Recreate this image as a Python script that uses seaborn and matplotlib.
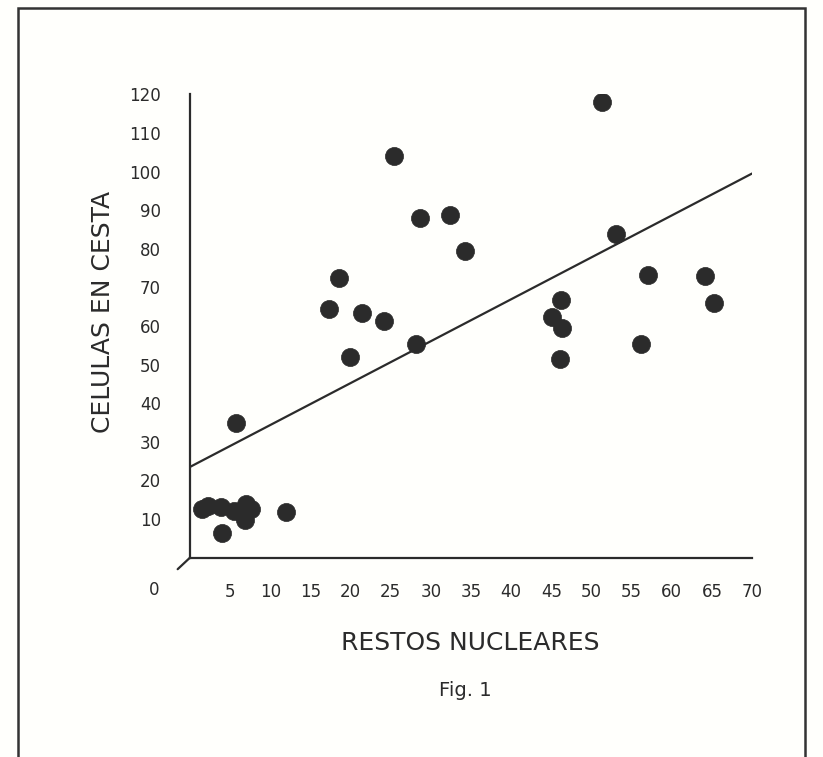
import numpy as np
import pandas as pd
import matplotlib.pyplot as plt
import seaborn as sb
from matplotlib.patches import Rectangle

# values
restos = [1.5, 2.2, 3.8, 4.0, 5.5, 6.5, 6.8, 7.0, 7.6, 12.0,
          5.7, 17.3, 18.5, 19.9, 21.4, 24.1, 25.4, 28.1, 28.6, 32.4, 34.3,
          45.1, 46.2, 46.3, 46.1, 51.3, 53.1, 56.2, 57.1, 64.1, 65.2]
celulas = [12.5, 13.5, 13.0, 6.5, 12.0, 11.5, 9.8, 14.0, 12.5, 11.8,
           35.0, 64.4, 72.4, 52.0, 63.3, 61.4, 104.0, 55.3, 88.1, 88.9, 79.5,
           62.4, 66.7, 59.4, 51.4, 118.1, 83.8, 55.3, 73.2, 73.0, 66.0]

# fitted line as drawn in the figure
line_intercept = 23.5
line_slope = 1.086
line_x = [0, 70]

x_ticks = [5, 10, 15, 20, 25, 30, 35, 40, 45, 50, 55, 60, 65, 70]
y_ticks = [10, 20, 30, 40, 50, 60, 70, 80, 90, 100, 110, 120]

df = pd.DataFrame({'restos': restos, 'celulas': celulas})
df_line = pd.DataFrame({'x': line_x})
df_line['y'] = line_intercept + line_slope * df_line['x']

sb.set_style('white')
plt.rcParams['font.family'] = ['DejaVu Sans']
ink = '#2b2b2b'

fig = plt.figure(figsize=(8.23, 7.57), dpi=100)
fig.patch.set_facecolor('#fffffc')
ax = fig.add_axes([0.2309, 0.2634, 0.6829, 0.6118])
ax.set_facecolor('none')

sb.lineplot(data=df_line, x='x', y='y', ax=ax, color=ink, linewidth=1.6)
sb.scatterplot(data=df, x='restos', y='celulas', ax=ax, s=170,
               color=ink, edgecolor=ink, linewidth=0.5, zorder=3)

ax.set_xlim(0, 70)
ax.set_ylim(0, 120)
ax.set_xticks(x_ticks)
ax.set_yticks(y_ticks)
ax.set_xticklabels([str(t) for t in x_ticks], fontsize=12, color=ink)
ax.set_yticklabels([str(t) for t in y_ticks], fontsize=12, color=ink)
ax.tick_params(axis='both', direction='out', length=7, width=1.5, color=ink)
ax.tick_params(axis='x', pad=11)
ax.tick_params(axis='y', pad=14)

for side in ['top', 'right']:
    ax.spines[side].set_visible(False)
for side in ['left', 'bottom']:
    ax.spines[side].set_color(ink)
    ax.spines[side].set_linewidth(1.6)

# small spur at the origin and the separate "0" label
ax.plot([0, -0.022], [0, -0.025], transform=ax.transAxes, color=ink,
        linewidth=1.6, clip_on=False)
ax.text(-0.063, -0.07, '0', transform=ax.transAxes, fontsize=12,
        color=ink, ha='center', va='center')

ax.set_xlabel('')
ax.set_ylabel('')
fig.text(470 / 823, 1 - 643 / 757, 'RESTOS NUCLEARES', fontsize=18,
         color=ink, ha='center', va='center')
fig.text(103 / 823, 1 - 312 / 757, 'CELULAS EN CESTA', fontsize=18,
         color=ink, ha='center', va='center', rotation=90)
fig.text(465 / 823, 1 - 690 / 757, 'Fig. 1', fontsize=14,
         color=ink, ha='center', va='center')

# page frame
fig.add_artist(Rectangle((18 / 823, -0.01), 787 / 823, 0.9994,
                         transform=fig.transFigure, fill=False,
                         edgecolor='#333333', linewidth=1.8))

plt.savefig('out.png', dpi=100)
